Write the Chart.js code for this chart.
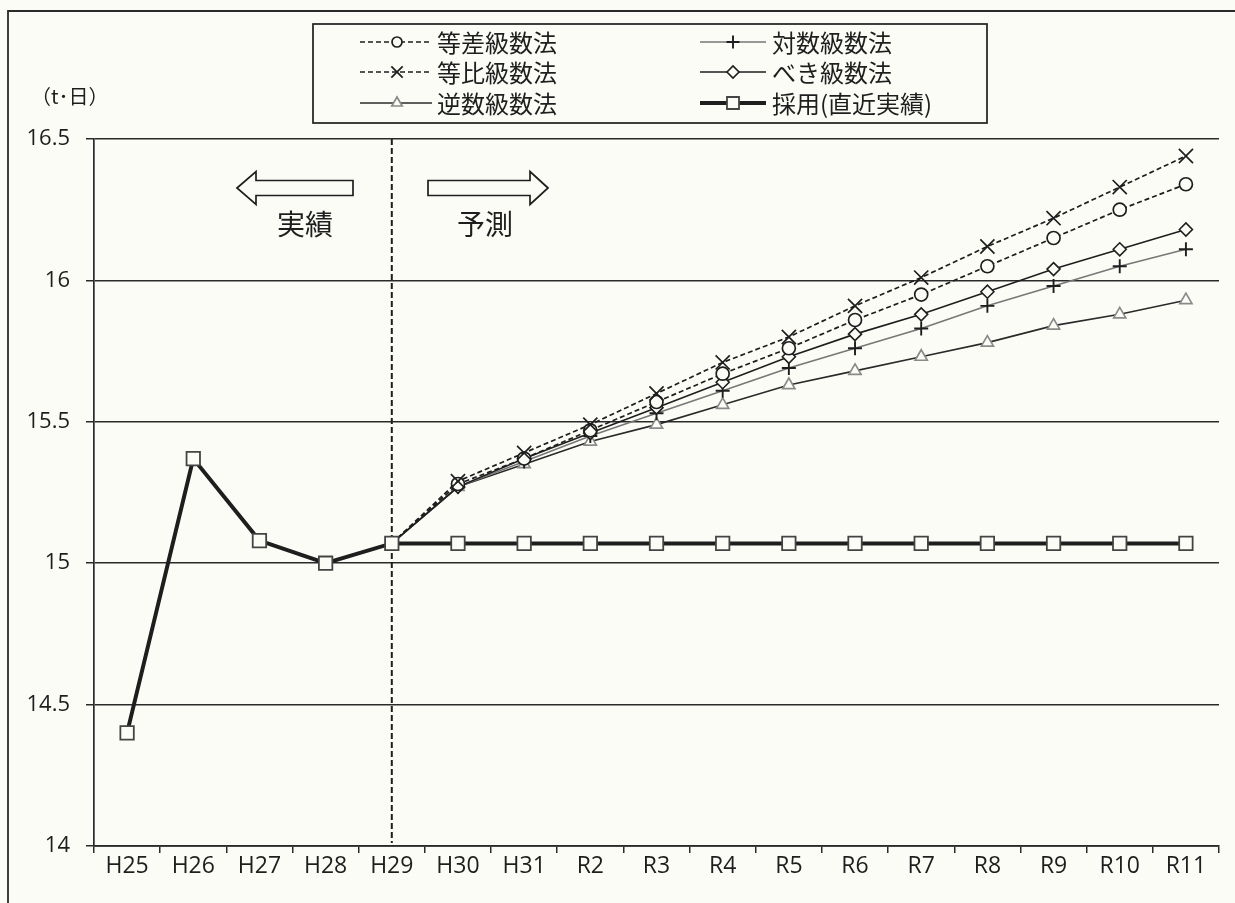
<!DOCTYPE html>
<html>
<head>
<meta charset="utf-8">
<script src="https://cdn.jsdelivr.net/npm/chart.js@4.4.0/dist/chart.umd.min.js"></script>
<style>
  html, body { margin: 0; padding: 0; background: #fcfcf7; overflow: hidden; }
  canvas { display: block; }
</style>
</head>
<body>
<canvas id="c" width="1235" height="903"></canvas>
<script>
// ---- data ----
const categories = ['H25','H26','H27','H28','H29','H30','H31','R2','R3','R4','R5','R6','R7','R8','R9','R10','R11'];
const yTicks = [14, 14.5, 15, 15.5, 16, 16.5];
const unitLabel = '（t･日）';
const pastLabel = '実績';
const futureLabel = '予測';
const forecastStartLabel = 'H29';

const adopted = [14.40, 15.37, 15.08, 15.00, 15.07, 15.07, 15.07, 15.07, 15.07, 15.07, 15.07, 15.07, 15.07, 15.07, 15.07, 15.07, 15.07];
const arithmetic = [null, null, null, null, 15.07, 15.28, 15.37, 15.47, 15.57, 15.67, 15.76, 15.86, 15.95, 16.05, 16.15, 16.25, 16.34];
const geometric = [null, null, null, null, 15.07, 15.29, 15.39, 15.49, 15.60, 15.71, 15.80, 15.91, 16.01, 16.12, 16.22, 16.33, 16.44];
const reciprocal = [null, null, null, null, 15.07, 15.27, 15.35, 15.43, 15.49, 15.56, 15.63, 15.68, 15.73, 15.78, 15.84, 15.88, 15.93];
const logarithmic = [null, null, null, null, 15.07, 15.27, 15.36, 15.45, 15.53, 15.61, 15.69, 15.76, 15.83, 15.91, 15.98, 16.05, 16.11];
const power = [null, null, null, null, 15.07, 15.27, 15.37, 15.46, 15.55, 15.64, 15.73, 15.81, 15.88, 15.96, 16.04, 16.11, 16.18];

const seriesNames = ['等差級数法', '等比級数法', '逆数級数法', '対数級数法', 'べき級数法', '採用(直近実績)'];

// ---- styles ----
const TICK_FONT = "'Open Sans', 'Noto Sans', sans-serif";
const JP_FONT = "'Noto Sans CJK JP', 'Noto Sans', sans-serif";
const INK = '#1e1e1e';
const BG = '#fcfcf7';
const startIdx = categories.indexOf(forecastStartLabel);
const hideStart = (r) => (ctx) => (ctx.dataIndex === startIdx ? 0 : r);

const datasets = [
  { label: seriesNames[0], data: arithmetic, borderColor: INK, borderWidth: 1.7, borderDash: [5, 3],
    pointStyle: 'circle', pointRadius: hideStart(6.5), pointBackgroundColor: BG, pointBorderColor: INK, pointBorderWidth: 1.7, order: 3,
    legendRadius: 5 },
  { label: seriesNames[1], data: geometric, borderColor: INK, borderWidth: 1.7, borderDash: [5, 3],
    pointStyle: 'crossRot', pointRadius: hideStart(10), pointBackgroundColor: INK, pointBorderColor: INK, pointBorderWidth: 1.7, order: 2,
    legendRadius: 8 },
  { label: seriesNames[2], data: reciprocal, borderColor: '#2a2a2a', borderWidth: 1.6,
    pointStyle: 'triangle', pointRadius: hideStart(7), pointBackgroundColor: BG, pointBorderColor: '#8a8a8a', pointBorderWidth: 1.7, order: 6,
    legendRadius: 6 },
  { label: seriesNames[3], data: logarithmic, borderColor: '#777777', borderWidth: 1.6,
    pointStyle: 'cross', pointRadius: hideStart(7), pointBackgroundColor: INK, pointBorderColor: INK, pointBorderWidth: 1.9, order: 5,
    legendRadius: 6.5 },
  { label: seriesNames[4], data: power, borderColor: INK, borderWidth: 1.6,
    pointStyle: 'rectRot', pointRadius: hideStart(6.5), pointBackgroundColor: BG, pointBorderColor: INK, pointBorderWidth: 1.6, order: 4,
    legendRadius: 6 },
  { label: seriesNames[5], data: adopted, borderColor: INK, borderWidth: 4,
    pointStyle: 'rect', pointRadius: 9.5, pointBackgroundColor: BG, pointBorderColor: '#444444', pointBorderWidth: 1.8, order: 0,
    legendRadius: 8.5 }
];
datasets.forEach(d => { d.fill = false; d.tension = 0; d.spanGaps = false; });

// legend layout: [datasetIndex, column, row]
const legendLayout = [[0, 0, 0], [1, 0, 1], [2, 0, 2], [3, 1, 0], [4, 1, 1], [5, 1, 2]];

const bgPlugin = {
  id: 'bg',
  beforeDraw(chart) {
    const c = chart.ctx;
    c.save();
    c.fillStyle = BG;
    c.fillRect(0, 0, chart.width, chart.height);
    c.restore();
  }
};

const dividerPlugin = {
  id: 'divider',
  beforeDatasetsDraw(chart) {
    const c = chart.ctx, a = chart.chartArea;
    const x = chart.scales.x.getPixelForValue(startIdx);
    c.save();
    c.strokeStyle = INK;
    c.lineWidth = 2;
    c.setLineDash([6, 3]);
    c.beginPath();
    c.moveTo(x, a.top);
    c.lineTo(x, a.bottom - 3);
    c.stroke();
    c.restore();
  }
};

function arrow(c, xBody, xHeadBase, xTip, yc) {
  const bh = 7.5, hh = 16.5;
  c.beginPath();
  c.moveTo(xTip, yc);
  c.lineTo(xHeadBase, yc - hh);
  c.lineTo(xHeadBase, yc - bh);
  c.lineTo(xBody, yc - bh);
  c.lineTo(xBody, yc + bh);
  c.lineTo(xHeadBase, yc + bh);
  c.lineTo(xHeadBase, yc + hh);
  c.closePath();
  c.fillStyle = BG;
  c.fill();
  c.stroke();
}

const decoPlugin = {
  id: 'deco',
  afterDraw(chart) {
    const c = chart.ctx;
    c.save();
    // outer frame
    c.strokeStyle = '#2a2a2a';
    c.lineWidth = 1.8;
    c.beginPath();
    c.moveTo(8, chart.height);
    c.lineTo(8, 11);
    c.lineTo(chart.width, 11);
    c.stroke();

    // unit label
    c.fillStyle = INK;
    c.font = '20px ' + JP_FONT;
    c.textAlign = 'left';
    c.textBaseline = 'middle';
    c.fillText(unitLabel, 31, 96);

    // arrows
    c.strokeStyle = INK;
    c.lineWidth = 1.7;
    arrow(c, 353, 256, 237, 188);
    arrow(c, 428, 530, 548, 188);
    c.fillStyle = INK;
    c.font = '28px ' + JP_FONT;
    c.textAlign = 'center';
    c.fillText(pastLabel, 305, 224);
    c.fillText(futureLabel, 485, 224);

    // legend box
    c.lineWidth = 1.7;
    c.strokeStyle = INK;
    c.fillStyle = BG;
    c.fillRect(313, 24, 674, 99);
    c.strokeRect(313, 24, 674, 99);
    const cols = [{ x0: 360, x1: 432, mx: 397, tx: 437 }, { x0: 700, x1: 766, mx: 733, tx: 772 }];
    const rows = [42, 72, 103];
    legendLayout.forEach(([di, ci, ri]) => {
      const ds = chart.data.datasets[di];
      const col = cols[ci], y = rows[ri];
      c.save();
      c.strokeStyle = ds.borderColor;
      c.lineWidth = Math.min(ds.borderWidth, 4);
      c.setLineDash(ds.borderDash || []);
      c.beginPath();
      c.moveTo(col.x0, y);
      c.lineTo(col.x1, y);
      c.stroke();
      c.setLineDash([]);
      c.fillStyle = ds.pointBackgroundColor;
      c.strokeStyle = ds.pointBorderColor;
      c.lineWidth = ds.pointBorderWidth;
      Chart.helpers.drawPoint(c, { pointStyle: ds.pointStyle, radius: ds.legendRadius, rotation: 0, borderWidth: ds.pointBorderWidth }, col.mx, y);
      c.restore();
      c.fillStyle = INK;
      c.font = '24px ' + JP_FONT;
      c.textAlign = 'left';
      c.textBaseline = 'middle';
      c.fillText(ds.label, col.tx, y + 1);
    });
    c.restore();
  }
};

new Chart(document.getElementById('c'), {
  type: 'line',
  data: { labels: categories, datasets },
  options: {
    responsive: false,
    animation: false,
    layout: { padding: { top: 139, right: 16, bottom: 0, left: 0 } },
    plugins: { legend: { display: false }, tooltip: { enabled: false } },
    scales: {
      x: {
        offset: true,
        grid: { offset: true, drawOnChartArea: false, drawTicks: true, tickLength: 7, color: '#2a2a2a', lineWidth: 1.5 },
        border: { display: true, color: '#2a2a2a', width: 1.7 },
        ticks: { color: INK, font: { family: TICK_FONT, size: 23 }, padding: 0, maxRotation: 0, autoSkip: false },
        afterFit(s) { s.height = 57; }
      },
      y: {
        min: yTicks[0],
        max: yTicks[yTicks.length - 1],
        afterBuildTicks(s) { s.ticks = yTicks.map(v => ({ value: v })); },
        grid: { color: '#2a2a2a', lineWidth: 1.5, tickLength: 8, drawTicks: true },
        border: { display: true, color: '#2a2a2a', width: 1.7 },
        ticks: { color: INK, font: { family: TICK_FONT, size: 22 }, padding: 16, callback: (v) => String(v) },
        afterFit(s) { s.width = 94; }
      }
    }
  },
  plugins: [bgPlugin, dividerPlugin, decoPlugin]
});
</script>
</body>
</html>
